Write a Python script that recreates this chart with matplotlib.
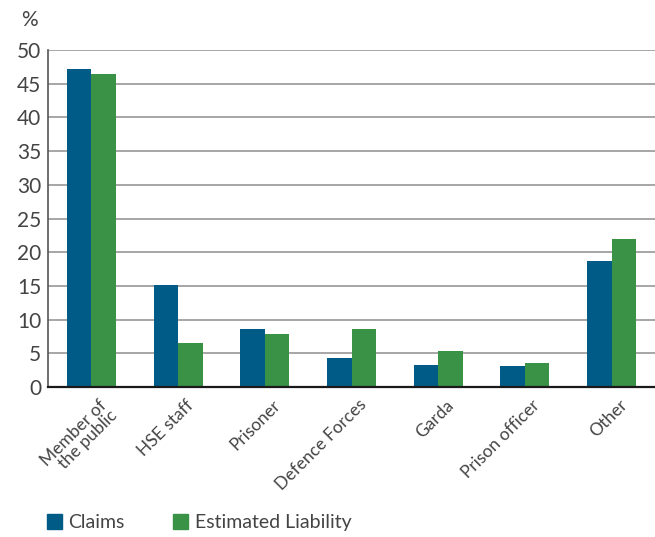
import numpy as np
import matplotlib
matplotlib.use("Agg")
from matplotlib import pyplot as plt
from matplotlib import transforms
from matplotlib.patches import Patch

plt.rcParams['font.family'] = ['Lato', 'DejaVu Sans']

categories = ['Member of\nthe public', 'HSE staff', 'Prisoner', 'Defence Forces',
              'Garda', 'Prison officer', 'Other']
claims = [47.2, 15.1, 8.6, 4.3, 3.2, 3.1, 18.7]
estimated_liability = [46.4, 6.5, 7.8, 8.6, 5.3, 3.5, 21.9]
y_ticks = [0, 5, 10, 15, 20, 25, 30, 35, 40, 45, 50]

blue = '#005b87'
green = '#3a9246'
text_col = '#444444'

fig = plt.figure(figsize=(6.55, 5.37), dpi=100)
ax = fig.add_axes([0.0733, 0.2793, 0.9267, 0.6276])

x = np.arange(len(categories))
w = 0.283
ax.bar(x - w / 2, claims, width=w, color=blue, zorder=3)
ax.bar(x + w / 2, estimated_liability, width=w, color=green, zorder=3)

ax.set_xlim(-0.5, len(categories) - 0.5)
ax.set_ylim(0, 50)
ax.set_yticks(y_ticks)
ax.set_yticklabels([str(t) for t in y_ticks], fontsize=15, color=text_col)
ax.yaxis.grid(True, color='#a6a6a6', lw=1.4, zorder=0)
ax.tick_params(axis='y', length=0, pad=5)
ax.tick_params(axis='x', length=0, pad=7)
ax.set_xticks(x)
ax.set_xticklabels(categories, rotation=45, ha='right', va='top',
                   rotation_mode='anchor', fontsize=12.5, color=text_col,
                   linespacing=0.95)
# nudge the slanted labels a little to the right
shift = transforms.ScaledTranslation(0.07, 0, fig.dpi_scale_trans)
for lbl in ax.get_xticklabels():
    lbl.set_transform(lbl.get_transform() + shift)

for side in ['top', 'right']:
    ax.spines[side].set_visible(False)
ax.spines['left'].set_color('#555555')
ax.spines['left'].set_linewidth(1.2)
ax.spines['bottom'].set_color('#1a1a1a')
ax.spines['bottom'].set_linewidth(1.6)
ax.spines['bottom'].set_zorder(4)

fig.text(0.033, 0.962, '%', fontsize=15, color=text_col, ha='left', va='center')

handles = [Patch(color=blue, label='Claims'),
           Patch(color=green, label='Estimated Liability')]
fig.legend(handles=handles, loc='lower left', bbox_to_anchor=(0.045, -0.022),
           ncol=2, frameon=False, fontsize=14, handlelength=0.75,
           handleheight=0.75, handletextpad=0.35, columnspacing=2.5,
           labelcolor=text_col)

fig.savefig('out.png', dpi=100)
